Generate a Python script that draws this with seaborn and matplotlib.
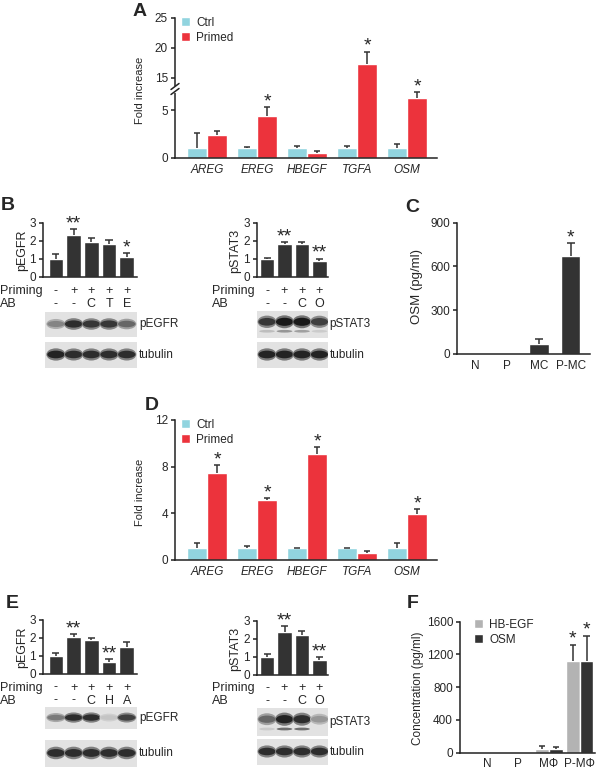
import numpy as np
import pandas as pd
import matplotlib
matplotlib.use('Agg')
import matplotlib.pyplot as plt
import seaborn as sns
from matplotlib.patches import Ellipse, Rectangle
from matplotlib.lines import Line2D
from matplotlib.transforms import blended_transform_factory

# ---- data ----
genes = ['AREG', 'EREG', 'HBEGF', 'TGFA', 'OSM']

a_ctrl = [1.0, 1.0, 1.0, 1.0, 1.0]
a_ctrl_err = [2.6, 1.15, 1.2, 1.25, 1.45]
a_primed = [2.4, 4.4, 0.5, 17.4, 6.25]
a_primed_err = [2.8, 5.3, 0.7, 19.4, 6.85]
a_primed_stars = ['', '*', '', '*', '*']

d_ctrl = [1.0, 1.0, 1.0, 1.0, 1.0]
d_ctrl_err = [1.49, 1.2, 1.06, 1.06, 1.49]
d_primed = [7.49, 5.14, 9.09, 0.57, 3.94]
d_primed_err = [8.14, 5.29, 9.71, 0.77, 4.34]
d_primed_stars = ['*', '*', '*', '', '*']

b_egfr_priming = ['-', '+', '+', '+', '+']
b_egfr_ab = ['-', '-', 'C', 'T', 'E']
b_egfr = [1.0, 2.31, 1.91, 1.82, 1.1]
b_egfr_err = [1.24, 2.63, 2.13, 2.04, 1.33]
b_egfr_stars = ['', '**', '', '', '*']
b_egfr_band = [0.45, 0.9, 0.85, 0.85, 0.6]
b_egfr_tub = [0.95, 0.9, 0.9, 0.9, 0.9]

b_stat_priming = ['-', '+', '+', '+']
b_stat_ab = ['-', '-', 'C', 'O']
b_stat = [1.0, 1.79, 1.82, 0.88]
b_stat_err = [1.04, 1.9, 1.93, 1.01]
b_stat_stars = ['', '**', '', '**']
b_stat_band = [0.85, 1.0, 1.0, 0.8]
b_stat_low = [0.15, 0.35, 0.3, 0.08]
b_stat_tub = [0.95, 0.95, 0.95, 0.95]

c_groups = ['N', 'P', 'MC', 'P-MC']
c_osm = [0, 0, 68, 672]
c_osm_err = [0, 0, 100, 759]
c_stars = ['', '', '', '*']

e_egfr_priming = ['-', '+', '+', '+', '+']
e_egfr_ab = ['-', '-', 'C', 'H', 'A']
e_egfr = [1.0, 2.02, 1.88, 0.62, 1.5]
e_egfr_err = [1.12, 2.18, 2.0, 0.78, 1.75]
e_egfr_stars = ['', '**', '', '**', '']
e_egfr_band = [0.5, 0.9, 0.9, 0.12, 0.8]
e_egfr_tub = [0.9, 0.9, 0.9, 0.9, 0.9]

e_stat_priming = ['-', '+', '+', '+']
e_stat_ab = ['-', '-', 'C', 'O']
e_stat = [1.0, 2.35, 2.17, 0.8]
e_stat_err = [1.16, 2.7, 2.42, 0.95]
e_stat_stars = ['', '**', '', '**']
e_stat_band = [0.6, 0.95, 0.9, 0.35]
e_stat_low = [0.08, 0.55, 0.55, 0.0]
e_stat_tub = [0.9, 0.9, 0.9, 0.9]

f_groups = ['N', 'P', 'MΦ', 'P-MΦ']
f_hbegf = [0, 0, 50, 1120]
f_hbegf_err = [0, 0, 80, 1320]
f_osm = [0, 0, 40, 1120]
f_osm_err = [0, 0, 65, 1430]
f_stars = ['', '', '', '*']

ctrl_c = '#91d4df'
primed_c = '#ec333c'
dark = '#333333'
light = '#b3b3b3'
FS = 8.5

sns.set_style('ticks')
plt.rcParams['font.family'] = ['Liberation Sans', 'DejaVu Sans']

W, H = 600, 769
fig = plt.figure(figsize=(6, 7.69), dpi=100)


def rect(x0, y0, x1, y1):
    return [x0 / W, 1 - y1 / H, (x1 - x0) / W, (y1 - y0) / H]


def ftext(x, y, s, **kw):
    fig.text(x / W, 1 - y / H, s, **kw)


def style(ax):
    sns.despine(ax=ax)
    for s in ['left', 'bottom']:
        ax.spines[s].set_linewidth(1.1)
        ax.spines[s].set_color('#222222')
    ax.tick_params(axis='y', length=3, width=1.1, labelsize=FS, pad=2, color='#222222')
    ax.tick_params(axis='x', length=0, labelsize=FS, pad=4)
    ax.set_xlabel('')
    ax.set_ylabel('')


def add_err(ax, bars, vals, errs, stars, cap, star_fs=14):
    for bar, v, e, s in zip(bars, vals, errs, stars):
        x = bar.get_x() + bar.get_width() / 2
        if e > v:
            ax.vlines(x, v, e, color=dark, lw=1.1, clip_on=False)
            ax.hlines(e, x - cap, x + cap, color=dark, lw=1.1, clip_on=False)
        if s:
            ax.annotate(s, (x, e), xytext=(0, 0.5), textcoords='offset points',
                        ha='center', va='baseline', fontsize=star_fs, annotation_clip=False)


def fold_panel(top, ctrl, ctrl_err, primed, primed_err, stars):
    ax = fig.add_axes(rect(175, top, 437, top + 140))
    df = pd.DataFrame({'gene': genes * 2,
                       'group': ['Ctrl'] * 5 + ['Primed'] * 5,
                       'value': ctrl + primed})
    sns.barplot(data=df, x='gene', y='value', hue='group', palette=[ctrl_c, primed_c],
                width=0.8, gap=0, errorbar=None, saturation=1, ax=ax)
    style(ax)
    for t in ax.get_xticklabels():
        t.set_style('italic')
    ax.set_xlim(-0.64, 4.6)
    add_err(ax, ax.containers[0], ctrl, ctrl_err, [''] * 5, 0.06)
    add_err(ax, ax.containers[1], primed, primed_err, stars, 0.06)
    h, l = ax.get_legend_handles_labels()
    ax.legend(h, l, loc='upper left', bbox_to_anchor=(181 / W, 1 - (top - 1) / H),
              bbox_transform=fig.transFigure, frameon=False, fontsize=FS,
              handlelength=0.8, handleheight=0.8, handletextpad=0.5,
              labelspacing=0.25, borderpad=0, borderaxespad=0)
    ftext(140, top + 72, 'Fold increase', rotation=90, ha='center', va='center', fontsize=8)
    return ax


def lane_panel(x0, top, x1, vals, errs, stars, priming, ab, xlim, ylab, ylab_x, label_x,
               blot_name, blot_y, band, low, tub, tub_y, blot_left):
    ax = fig.add_axes(rect(x0, top, x1, top + 54))
    lanes = np.arange(len(vals))
    sns.barplot(x=lanes, y=vals, color=dark, width=0.82, errorbar=None, saturation=1, ax=ax)
    style(ax)
    ax.set_xticks([])
    ax.set_xlim(*xlim)
    ax.set_ylim(0, 3)
    ax.set_yticks([0, 1, 2, 3])
    add_err(ax, ax.containers[0], vals, errs, stars, 0.2, star_fs=14)
    ftext(ylab_x, top + 28, ylab, rotation=90, ha='center', va='center', fontsize=9)
    tr = blended_transform_factory(ax.transData, fig.transFigure)
    ftext(label_x, top + 68, 'Priming', ha='left', va='center', fontsize=9)
    ftext(label_x, top + 81, 'AB', ha='left', va='center', fontsize=9)
    for i, (p, a) in enumerate(zip(priming, ab)):
        ax.text(i, 1 - (top + 68) / H, p, transform=tr, ha='center', va='center', fontsize=9)
        ax.text(i, 1 - (top + 81) / H, a, transform=tr, ha='center', va='center', fontsize=9)

    for (y0, y1), levels, lower, name in [(blot_y, band, low, blot_name),
                                           (tub_y, tub, None, 'tubulin')]:
        bax = fig.add_axes(rect(x0, y0, x1, y1))
        bax.set_xlim(*xlim)
        bax.set_ylim(0, 1)
        bax.axis('off')
        bax.add_patch(Rectangle((blot_left, 0), xlim[1] - blot_left, 1, color='#e2e2e2', lw=0))
        for i, v in enumerate(levels):
            if v > 0:
                shade = str(round(0.86 - 0.76 * v, 3))
                yc = 0.52 if lower is None else 0.6
                # soft halo then core, so bands look smeared like film
                bax.add_patch(Ellipse((i, yc), 1.08, 0.34 + 0.14 * v,
                                      color=str(round(0.86 - 0.4 * v, 3)), lw=0))
                bax.add_patch(Ellipse((i, yc), 0.98, 0.2 + 0.1 * v, color=shade, lw=0))
        if lower is not None:
            for i, v in enumerate(lower):
                if v > 0:
                    shade = str(round(0.86 - 0.78 * v, 3))
                    bax.add_patch(Ellipse((i, 0.25), 0.9, 0.1, color=shade, lw=0))
        ftext(x1 + 2, (y0 + y1) / 2, name, ha='left', va='center', fontsize=8.5)
    return ax


# ---- panel A (broken axis) ----
axA = fold_panel(18, a_ctrl, a_ctrl_err, a_primed, a_primed_err, a_primed_stars)
bx = [-100, 7, 13.5, 100]
by = [-100, 7, 7.4, 7.4 + 86.5 * 0.625]
axA.set_yscale('function', functions=(lambda y: np.interp(y, bx, by),
                                       lambda y: np.interp(y, by, bx)))
axA.set_ylim(0, 25)
axA.set_yticks([0, 5, 15, 20, 25])
axA.set_yticklabels(['0', '5', '15', '20', '25'])
fig.add_artist(Line2D([175 / W, 175 / W], [1 - 87.5 / H, 1 - 91 / H], color='white', lw=3))
for yy in (86.5, 91.5):
    fig.add_artist(Line2D([171 / W, 179 / W], [1 - (yy + 3) / H, 1 - (yy - 3) / H],
                          color='#222222', lw=1.1))

# ---- panel D ----
axD = fold_panel(420, d_ctrl, d_ctrl_err, d_primed, d_primed_err, d_primed_stars)
axD.set_ylim(0, 12)
axD.set_yticks([0, 4, 8, 12])

# ---- panels B and E (western blots) ----
lane_panel(43, 222.7, 137, b_egfr, b_egfr_err, b_egfr_stars, b_egfr_priming, b_egfr_ab,
           (-0.73, 4.58), 'pEGFR', 22, 0, 'pEGFR', (312, 337), b_egfr_band, None,
           b_egfr_tub, (342, 368), -0.62)
lane_panel(256.7, 222.7, 327.7, b_stat, b_stat_err, b_stat_stars, b_stat_priming, b_stat_ab,
           (-0.59, 3.47), 'pSTAT3', 235, 212, 'pSTAT3', (311, 338), b_stat_band, b_stat_low,
           b_stat_tub, (342, 368), -0.69)
lane_panel(43, 619.5, 137, e_egfr, e_egfr_err, e_egfr_stars, e_egfr_priming, e_egfr_ab,
           (-0.73, 4.58), 'pEGFR', 22, 0, 'pEGFR', (707, 729), e_egfr_band, None,
           e_egfr_tub, (740, 767), -0.62)
lane_panel(256.7, 620.5, 327.7, e_stat, e_stat_err, e_stat_stars, e_stat_priming, e_stat_ab,
           (-0.59, 3.47), 'pSTAT3', 235, 212, 'pSTAT3', (708, 736), e_stat_band, e_stat_low,
           e_stat_tub, (739, 765), -0.69)

# ---- panel C ----
axC = fig.add_axes(rect(457, 222.7, 590, 354))
sns.barplot(x=c_groups, y=c_osm, color=dark, width=0.6, errorbar=None, saturation=1, ax=axC)
style(axC)
axC.set_xlim(-0.57, 3.6)
axC.set_ylim(0, 900)
axC.set_yticks([0, 300, 600, 900])
add_err(axC, axC.containers[0], c_osm, c_osm_err, c_stars, 0.12)
ftext(417, 287, 'OSM (pg/ml)', rotation=90, ha='center', va='center', fontsize=9.5)

# ---- panel F ----
axF = fig.add_axes(rect(460, 621.7, 595, 752.7))
f_df = pd.DataFrame({'grp': f_groups * 2,
                     'kind': ['HB-EGF'] * 4 + ['OSM'] * 4,
                     'value': f_hbegf + f_osm})
sns.barplot(data=f_df, x='grp', y='value', hue='kind', palette=[light, dark], width=0.9,
            gap=0, errorbar=None, saturation=1, ax=axF)
style(axF)
axF.set_xlim(-0.87, 3.5)
axF.set_ylim(0, 1600)
axF.set_yticks([0, 400, 800, 1200, 1600])
add_err(axF, axF.containers[0], f_hbegf, f_hbegf_err, f_stars, 0.1)
add_err(axF, axF.containers[1], f_osm, f_osm_err, f_stars, 0.1)
h, l = axF.get_legend_handles_labels()
axF.legend(h, l, loc='upper left', bbox_to_anchor=(474 / W, 1 - 619 / H),
           bbox_transform=fig.transFigure, frameon=False, fontsize=FS,
           handlelength=0.8, handleheight=0.8, handletextpad=0.5,
           labelspacing=0.25, borderpad=0, borderaxespad=0)
ftext(418, 688, 'Concentration (pg/ml)', rotation=90, ha='center', va='center', fontsize=8.5)

# ---- panel letters ----
for x, y, s in [(140, 12, 'A'), (8, 205, 'B'), (412, 208, 'C'),
                (152, 405, 'D'), (12, 604, 'E'), (413, 604, 'F')]:
    ftext(x, y, s, ha='center', va='center', fontsize=14, fontweight='bold')

fig.savefig('out.png', dpi=100)
